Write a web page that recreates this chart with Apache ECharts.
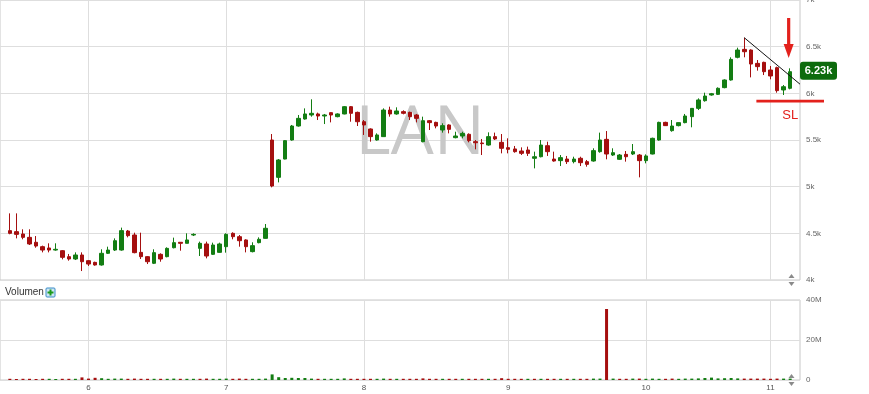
<!DOCTYPE html>
<html><head><meta charset="utf-8">
<script src="https://cdn.jsdelivr.net/npm/echarts@6/dist/echarts.min.js"></script>
<style>html,body{margin:0;padding:0;background:#fff;overflow:hidden}#c{width:869px;height:394px}</style>
</head><body><div id="c"></div>
<script>
// month number and number of trading days shown in that month (first run is partial: no tick)
const monthRuns = [[5,12],[6,21],[7,21],[8,22],[9,21],[10,19],[11,4]];
const opens = [
4529,4518,4493,4457,4404,4357,4343,4321,4314,4250,
4225,4268,4207,4189,4161,4286,4321,4321,4525,4482,
4296,4250,4179,4275,4250,4346,4404,4393,4482,4339,
4386,4275,4296,4357,4500,4464,4429,4304,4400,4446,
5500,5100,5296,5500,5650,5725,5768,5779,5757,5793,
5750,5779,5857,5796,5696,5618,5500,5536,5821,5779,
5804,5796,5768,5482,5707,5689,5607,5661,5525,5543,
5561,5482,5468,5446,5536,5475,5418,5404,5382,5393,
5304,5321,5439,5296,5279,5296,5268,5304,5268,5275,
5375,5507,5339,5293,5346,5350,5339,5279,5350,5500,
5689,5600,5654,5686,5750,5839,5921,5982,5989,6061,
6143,6386,6471,6464,6321,6332,6250,6275,6036,6054];
const closes = [
4500,4489,4457,4386,4364,4321,4321,4329,4243,4225,
4268,4196,4171,4161,4286,4321,4421,4529,4475,4293,
4250,4196,4293,4225,4339,4400,4393,4429,4489,4393,
4257,4375,4386,4489,4464,4421,4357,4368,4436,4554,
5007,5286,5493,5650,5732,5779,5786,5757,5768,5768,
5779,5857,5786,5696,5661,5536,5554,5821,5779,5811,
5786,5750,5732,5707,5686,5650,5654,5614,5543,5571,
5493,5471,5461,5536,5511,5411,5400,5375,5357,5357,
5321,5446,5375,5275,5311,5268,5296,5257,5239,5386,
5500,5350,5364,5339,5321,5375,5279,5329,5518,5689,
5654,5650,5686,5757,5839,5929,5971,5996,6054,6143,
6364,6464,6446,6314,6286,6232,6186,6029,6071,6232];
const lows = [
4490,4446,4436,4375,4346,4296,4296,4314,4221,4207,
4214,4096,4150,4154,4154,4279,4311,4314,4457,4286,
4225,4171,4171,4196,4243,4339,4314,4393,4471,4257,
4232,4268,4293,4293,4436,4357,4296,4296,4393,4443,
4993,5046,5293,5493,5643,5718,5750,5714,5671,5689,
5743,5775,5696,5650,5554,5482,5493,5536,5750,5771,
5775,5714,5689,5475,5607,5625,5579,5571,5518,5518,
5475,5400,5339,5439,5500,5357,5357,5364,5339,5329,
5196,5314,5329,5268,5221,5243,5250,5221,5214,5268,
5364,5293,5329,5286,5268,5339,5100,5250,5346,5493,
5650,5589,5646,5679,5636,5821,5911,5975,5982,6054,
6136,6375,6386,6171,6243,6196,6150,6007,5982,6043];
const highs = [
4714,4714,4543,4543,4471,4368,4393,4393,4321,4279,
4296,4296,4214,4196,4329,4357,4446,4561,4536,4507,
4507,4257,4329,4286,4350,4454,4407,4500,4500,4411,
4411,4400,4400,4500,4511,4482,4436,4404,4457,4600,
5564,5296,5500,5661,5768,5839,5936,5793,5779,5796,
5786,5864,5864,5804,5714,5625,5571,5839,5857,5850,
5818,5804,5779,5750,5714,5696,5679,5668,5589,5589,
5571,5500,5511,5582,5579,5564,5518,5436,5421,5429,
5375,5500,5482,5375,5339,5329,5321,5321,5286,5411,
5579,5596,5411,5350,5382,5457,5350,5346,5525,5696,
5696,5714,5689,5779,5839,5946,6007,6004,6064,6150,
6386,6489,6596,6471,6357,6339,6293,6286,6089,6268];
// volume in millions
const volumesM = [
0.6,0.5,0.6,0.6,0.5,0.6,0.6,0.5,0.6,0.6,
0.6,1.3,0.7,1.1,0.9,0.6,0.7,0.7,0.6,0.7,
0.6,0.6,0.6,0.6,0.6,0.7,0.6,0.6,0.6,0.6,
0.7,0.6,0.6,0.7,0.6,0.7,0.6,0.6,0.6,0.7,
2.8,1.4,1.0,1.1,1.0,1.0,0.7,0.6,0.6,0.6,
0.6,0.8,0.6,0.6,0.6,0.6,0.6,0.7,0.6,0.6,
0.6,0.6,0.6,0.8,0.6,0.6,0.6,0.6,0.6,0.6,
0.6,0.6,0.6,0.6,0.6,0.9,0.6,0.6,0.6,0.6,
0.6,0.6,0.6,0.6,0.6,0.6,0.6,0.6,0.6,0.7,
0.7,35.5,0.7,0.6,0.6,0.7,0.7,0.6,0.7,0.6,
0.6,0.7,0.6,0.7,0.7,0.8,1.0,1.2,0.8,0.9,
1.0,0.8,0.7,0.7,0.7,0.7,0.6,0.7,0.7,0.7];
const priceTicks = [4000,4500,5000,5500,6000,6500,7000];
const volumeTicks = [0,20,40];
const symbolName = 'LAN';
const lastPriceLabel = '6.23k';
const trendFrom = [112, 6596], trendTo = [119, 6186];
const arrowIdx = 119, arrowTop = 6807, arrowTip = 6379;
const stopLoss = 5918, stopLossFromIdx = 114, stopLossText = 'SL', stopLossTextPrice = 5768;

const UP = '#137d13', DOWN = '#a50f0f';

// categories: trading-day labels "month/day-count", padded one slot on each side
const cats = ['padL'];
const monthStart = {};
monthRuns.forEach(([m, n], r) => { for (let k = 1; k <= n; k++) { if (k === 1 && r > 0) monthStart[cats.length] = String(m); cats.push(m + '/' + k); } });
cats.push('padR');
const N = opens.length;
const candleData = ['-'];
const volData = ['-'];
for (let i = 0; i < N; i++) {
  candleData.push([opens[i], closes[i], lows[i], highs[i]]);
  const prev = i > 0 ? closes[i - 1] : opens[i];
  volData.push({ value: volumesM[i] * 1e6, itemStyle: { color: closes[i] >= prev ? UP : DOWN } });
}
candleData.push('-'); volData.push('-');
const startCats = Object.keys(monthStart).map(k => cats[+k]);

const GRID_COLOR = '#dedede', BORDER = '#c8c8c8';
const labelFont = { fontSize: 8, color: '#666', fontFamily: 'Liberation Sans' };
const chart = echarts.init(document.getElementById('c'), null, { renderer: 'canvas' });
const vline = { silent: true, symbol: 'none', z: 1, animation: false, label: { show: false },
  lineStyle: { color: GRID_COLOR, type: 'solid', width: 1 }, emphasis: { disabled: true },
  data: startCats.map(c => ({ xAxis: c })) };
chart.setOption({
  animation: false,
  grid: [
    { left: 0, right: 69, top: 0, height: 280, show: true, borderColor: BORDER, borderWidth: 1, backgroundColor: 'transparent', containLabel: false, outerBoundsMode: 'none' },
    { left: 0, right: 69, top: 300, height: 80, show: true, borderColor: BORDER, borderWidth: 1, backgroundColor: 'transparent', containLabel: false, outerBoundsMode: 'none' }
  ],
  xAxis: [
    { type: 'category', gridIndex: 0, data: cats, boundaryGap: true, axisLine: { show: false }, axisTick: { show: false }, axisLabel: { show: false }, splitLine: { show: false } },
    { type: 'category', gridIndex: 1, data: cats, boundaryGap: true, axisLine: { show: false }, axisTick: { show: false }, splitLine: { show: false },
      axisLabel: { ...labelFont, color: '#555', margin: 4, interval: (i) => monthStart[i] !== undefined, formatter: (v, i) => monthStart[i] || '' } }
  ],
  yAxis: [
    { type: 'value', gridIndex: 0, position: 'right', min: priceTicks[0], max: priceTicks[priceTicks.length - 1], interval: 500,
      axisLine: { show: false }, axisTick: { show: false },
      axisLabel: { ...labelFont, margin: 6, formatter: v => (v / 1000) + 'k' },
      splitLine: { show: true, lineStyle: { color: GRID_COLOR } } },
    { type: 'value', gridIndex: 1, position: 'right', min: 0, max: volumeTicks[2] * 1e6, interval: 20e6,
      axisLine: { show: false }, axisTick: { show: false },
      axisLabel: { ...labelFont, margin: 6, formatter: v => v === 0 ? '0' : (v / 1e6) + 'M' },
      splitLine: { show: true, lineStyle: { color: GRID_COLOR } } }
  ],
  series: [
    { type: 'candlestick', xAxisIndex: 0, yAxisIndex: 0, data: candleData, barWidth: 4, z: 3,
      itemStyle: { color: UP, color0: DOWN, borderColor: UP, borderColor0: DOWN, borderWidth: 1 },
      markLine: vline },
    { type: 'bar', xAxisIndex: 1, yAxisIndex: 1, data: volData, barWidth: 3, z: 3, markLine: vline }
  ]
});

const px = (i, p) => chart.convertToPixel({ gridIndex: 0 }, [cats[i + 1], p]);
const rightEdge = 869 - 69;
const a = px(trendFrom[0], trendFrom[1]), b = px(trendTo[0], trendTo[1]);
const tEnd = [rightEdge, a[1] + (b[1] - a[1]) * (rightEdge - a[0]) / (b[0] - a[0])];
const ax = px(arrowIdx, arrowTop)[0] - 1.5, aTop = px(arrowIdx, arrowTop)[1], aTip = px(arrowIdx, arrowTip)[1];
const slY = px(stopLossFromIdx, stopLoss)[1], slX = px(stopLossFromIdx, stopLoss)[0] - 1;
const slT = px(arrowIdx, stopLossTextPrice);
const lastY = px(N - 1, closes[N - 1])[1];
const RED = '#e3211c';
const tri = (x, y, up) => ({ type: 'polygon', shape: { points: up ? [[x - 3, y + 2], [x + 3, y + 2], [x, y - 2]] : [[x - 3, y - 2], [x + 3, y - 2], [x, y + 2]] }, style: { fill: '#8a8a8a' } });
chart.setOption({
  graphic: [
    { type: 'text', x: 420, y: 135, z: 1, silent: true, style: { text: symbolName, fontSize: 68, fontFamily: 'Open Sans', fontWeight: 'normal', fill: '#c8c8c8', align: 'center', verticalAlign: 'middle' } },
    { type: 'line', z: 10, shape: { x1: a[0], y1: a[1], x2: tEnd[0], y2: tEnd[1] }, style: { stroke: '#111', lineWidth: 1 } },
    { type: 'rect', z: 10, shape: { x: ax - 1.6, y: aTop, width: 3.2, height: aTip - aTop - 12 }, style: { fill: RED } },
    { type: 'polygon', z: 10, shape: { points: [[ax - 5, aTip - 14], [ax + 5, aTip - 14], [ax, aTip]] }, style: { fill: RED } },
    { type: 'rect', z: 10, shape: { x: slX, y: slY - 1.2, width: 824 - slX, height: 2.6 }, style: { fill: RED } },
    { type: 'text', z: 10, x: slT[0], y: slT[1], style: { text: stopLossText, fontSize: 13, fontFamily: 'Liberation Sans', fill: RED, align: 'center', verticalAlign: 'middle' } },
    { type: 'rect', z: 10, shape: { x: 800, y: lastY - 10, width: 37, height: 18, r: 3 }, style: { fill: '#0d6b0d' } },
    { type: 'text', z: 11, x: 818.5, y: lastY - 1, style: { text: lastPriceLabel, fontSize: 11, fontWeight: 'bold', fontFamily: 'Liberation Sans', fill: '#fff', align: 'center', verticalAlign: 'middle' } },
    { type: 'text', x: 5, y: 292, style: { text: 'Volumen', fontSize: 10, fontFamily: 'Liberation Sans', fill: '#333', verticalAlign: 'middle' } },
    { type: 'rect', x: 46, y: 288, shape: { x: 0, y: 0, width: 9, height: 9, r: 1 }, style: { fill: '#cde6f6', stroke: '#3b8cc6', lineWidth: 1 } },
    { type: 'rect', x: 49.5, y: 289.5, shape: { x: 0, y: 0, width: 2, height: 6 }, style: { fill: '#1b9a1b' } },
    { type: 'rect', x: 47.5, y: 291.5, shape: { x: 0, y: 0, width: 6, height: 2 }, style: { fill: '#1b9a1b' } },
    tri(791.5, 276, true), tri(791.5, 284, false),
    tri(791.5, 376, true), tri(791.5, 384, false)
  ]
});
</script></body></html>
